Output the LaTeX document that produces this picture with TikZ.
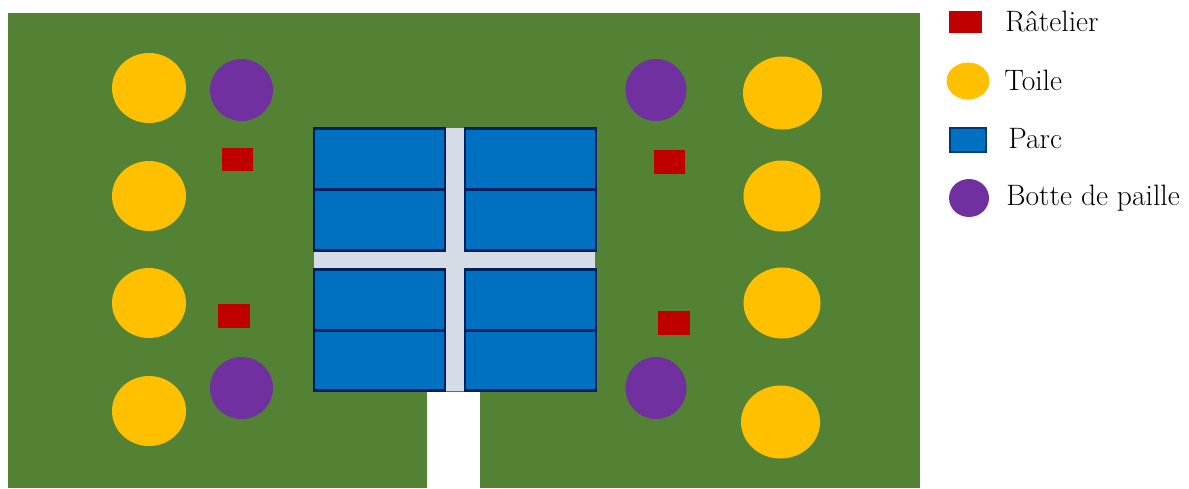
\documentclass[tikz,border=0pt]{standalone}
\usepackage{xcolor}
\usetikzlibrary{shapes,positioning}
\definecolor{fieldgreen}{RGB}{84,130,53}
\definecolor{parcblue}{RGB}{0,112,192}
\definecolor{parcline}{RGB}{0,32,96}
\definecolor{aislegrey}{RGB}{214,220,229}
\definecolor{toileyellow}{RGB}{255,192,0}
\definecolor{pailleviolet}{RGB}{112,48,160}
\definecolor{rackred}{RGB}{192,0,0}
\tikzset{
  parcbox/.style={rectangle, fill=parcblue, draw=parcline, line width=1.6pt, inner sep=0pt, minimum width=131*0.02cm, minimum height=60.5*0.02cm},
  toile/.style={ellipse, fill=toileyellow, inner sep=0pt},
  botte/.style={ellipse, fill=pailleviolet, inner sep=0pt},
  ratelier/.style={rectangle, fill=rackred, inner sep=0pt},
  legendtext/.style={anchor=west, inner sep=0pt, font=\fontsize{16.8}{20}\selectfont, text=black}
}
\begin{document}
\begin{tikzpicture}[x=0.02cm, y=-0.02cm]
\useasboundingbox (0,0) rectangle (1189,488);
% terrain
\node[rectangle, fill=fieldgreen, inner sep=0pt, anchor=north west, minimum width=912*0.02cm, minimum height=475*0.02cm] (field) at (8,13) {};
\node[rectangle, fill=white, inner sep=0pt, anchor=north west, minimum width=53*0.02cm, minimum height=96*0.02cm] (entry) at (427,392) {};
% allees
\node[rectangle, fill=aislegrey, inner sep=0pt, minimum width=281*0.02cm, minimum height=18*0.02cm] (aisleh) at (454.5,260) {};
\node[rectangle, fill=aislegrey, inner sep=0pt, minimum width=20*0.02cm, minimum height=263*0.02cm] (aislev) at (455.5,259.5) {};
% parcs
\node[parcbox] (parcA) at (379.5,159) {};
\node[parcbox] (parcB) at (379.5,220) {};
\node[parcbox] (parcC) at (379.5,300) {};
\node[parcbox] (parcD) at (379.5,360.5) {};
\node[parcbox] (parcE) at (530.5,159) {};
\node[parcbox] (parcF) at (530.5,220) {};
\node[parcbox] (parcG) at (530.5,300) {};
\node[parcbox] (parcH) at (530.5,360.5) {};
% toiles
\node[toile, minimum width=74*0.02cm, minimum height=70*0.02cm] (toileA) at (149,88) {};
\node[toile, minimum width=74*0.02cm, minimum height=70*0.02cm] (toileB) at (149,196) {};
\node[toile, minimum width=74*0.02cm, minimum height=70*0.02cm] (toileC) at (149,303) {};
\node[toile, minimum width=74*0.02cm, minimum height=70*0.02cm] (toileD) at (149,411) {};
\node[toile, minimum width=79*0.02cm, minimum height=73*0.02cm] (toileE) at (782.5,93) {};
\node[toile, minimum width=77*0.02cm, minimum height=71*0.02cm] (toileF) at (782,196) {};
\node[toile, minimum width=77*0.02cm, minimum height=71*0.02cm] (toileG) at (782,303) {};
\node[toile, minimum width=79*0.02cm, minimum height=73*0.02cm] (toileH) at (780.5,422) {};
% bottes
\node[botte, minimum width=63*0.02cm, minimum height=62*0.02cm] (botteA) at (241.5,90) {};
\node[botte, minimum width=63*0.02cm, minimum height=62*0.02cm] (botteB) at (241.5,388) {};
\node[botte, minimum width=61*0.02cm, minimum height=62*0.02cm] (botteC) at (656,90) {};
\node[botte, minimum width=61*0.02cm, minimum height=62*0.02cm] (botteD) at (656,388) {};
% rateliers
\node[ratelier, minimum width=31*0.02cm, minimum height=23*0.02cm] (rackA) at (237,159) {};
\node[ratelier, minimum width=32*0.02cm, minimum height=24*0.02cm] (rackB) at (234,316) {};
\node[ratelier, minimum width=31*0.02cm, minimum height=24*0.02cm] (rackC) at (669,162) {};
\node[ratelier, minimum width=32*0.02cm, minimum height=24*0.02cm] (rackD) at (674,323) {};
% legende
\node[ratelier, minimum width=33*0.02cm, minimum height=22*0.02cm] (keyrack) at (965,22) {};
\node[toile, minimum width=43*0.02cm, minimum height=37*0.02cm] (keytoile) at (968,81) {};
\node[rectangle, fill=parcblue, draw=parcline!70!parcblue, line width=1pt, inner sep=0pt, minimum width=36*0.02cm, minimum height=24*0.02cm] (keyparc) at (968,140) {};
\node[botte, minimum width=40*0.02cm, minimum height=38*0.02cm] (keybotte) at (969,198) {};
\node[legendtext] (txtrack) at (1005,21) {Râtelier};
\node[legendtext] (txttoile) at (1004,80) {Toile};
\node[legendtext] (txtparc) at (1008,139) {Parc};
\node[legendtext] (txtbotte) at (1006,198) {Botte de paille};
\end{tikzpicture}
\end{document}
